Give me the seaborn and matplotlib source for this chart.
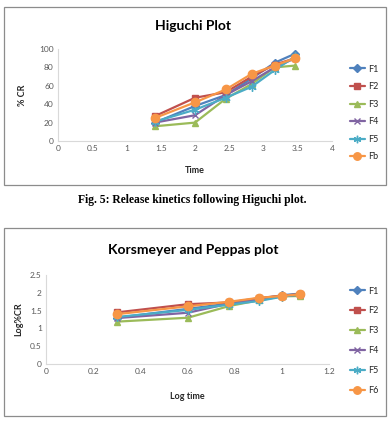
import matplotlib
matplotlib.use("Agg")
import matplotlib.pyplot as plt
import seaborn as sns
from matplotlib.patches import Rectangle

sns.set_theme(style="white")
plt.rcParams['font.family'] = ['Lato', 'DejaVu Sans']

series = ["F1", "F2", "F3", "F4", "F5", "F6"]
higuchi_labels = ["F1", "F2", "F3", "F4", "F5", "Fb"]
sqrt_time = [1.414, 2.0, 2.449, 2.828, 3.162, 3.464]
log_time = [0.301, 0.602, 0.778, 0.903, 1.0, 1.079]

higuchi_F1 = [20, 38, 50, 68, 85, 95]
higuchi_F2 = [27, 47, 53, 70, 83, 90]
higuchi_F3 = [16, 20, 46, 62, 80, 82]
higuchi_F4 = [20, 28, 50, 65, 80, 90]
higuchi_F5 = [21, 34, 47, 59, 77, 92]
higuchi_F6 = [25, 42, 56, 73, 82, 90]

kp_F1 = [1.30, 1.55, 1.70, 1.83, 1.93, 1.98]
kp_F2 = [1.45, 1.68, 1.73, 1.85, 1.92, 1.96]
kp_F3 = [1.19, 1.30, 1.63, 1.79, 1.90, 1.91]
kp_F4 = [1.29, 1.44, 1.70, 1.81, 1.90, 1.95]
kp_F5 = [1.32, 1.52, 1.67, 1.77, 1.89, 1.96]
kp_F6 = [1.40, 1.62, 1.75, 1.86, 1.91, 1.96]

colors = ["#4F81BD", "#C0504D", "#9BBB59", "#8064A2", "#4BACC6", "#F79646"]
markers = ["D", "s", "^", "x", (6, 2, 0), "o"]
msizes = [4, 5, 5, 5, 6, 6]

W, H = 391, 421
fig = plt.figure(figsize=(W / 100, H / 100), dpi=100)


def fx(px):
    return px / W


def fy(py):
    return 1 - py / H


# panel frames
for top, bot in [(7, 185), (228, 416)]:
    fig.patches.append(Rectangle((fx(4), fy(bot)), fx(386) - fx(4), fy(top) - fy(bot),
                                 transform=fig.transFigure, fill=False,
                                 edgecolor="#8c8c8c", linewidth=0.9))


def style_axes(ax):
    for s in ["top", "right"]:
        ax.spines[s].set_visible(False)
    for s in ["left", "bottom"]:
        ax.spines[s].set_color("#d9d9d9")
        ax.spines[s].set_linewidth(0.8)
    ax.tick_params(axis="both", length=0, labelsize=6, labelcolor="#595959", pad=3)
    ax.grid(False)
    ax.set_facecolor("white")


def draw(ax, x, ys, labels):
    for y, lab, c, m, ms in zip(ys, labels, colors, markers, msizes):
        sns.lineplot(x=x, y=y, ax=ax, color=c, marker=m, markersize=ms,
                     markeredgecolor=c, markeredgewidth=1.0, linewidth=1.6,
                     label=lab, estimator=None, sort=False)


# Higuchi
ax1 = fig.add_axes([fx(58), fy(141), fx(332) - fx(58), fy(49) - fy(141)])
draw(ax1, sqrt_time, [higuchi_F1, higuchi_F2, higuchi_F3, higuchi_F4, higuchi_F5, higuchi_F6],
     higuchi_labels)
style_axes(ax1)
ax1.set_xlim(0, 4)
ax1.set_ylim(0, 100)
ax1.set_xticks([0, 0.5, 1, 1.5, 2, 2.5, 3, 3.5, 4])
ax1.set_xticklabels(["0", "0.5", "1", "1.5", "2", "2.5", "3", "3.5", "4"])
ax1.set_yticks([0, 20, 40, 60, 80, 100])
ax1.set_xlabel("Time", fontsize=6.5, fontweight="bold", color="#262626", labelpad=10)
ax1.set_ylabel("% CR", fontsize=6.5, fontweight="bold", color="#262626", labelpad=9)
fig.text(fx(193), fy(26), "Higuchi Plot", ha="center", va="center", fontsize=10,
         fontweight="bold", color="black")
ax1.legend(loc="upper left", bbox_to_anchor=(fx(346), fy(61)), bbox_transform=fig.transFigure,
           frameon=False, fontsize=6.5, handlelength=1.7, labelspacing=0.95,
           handletextpad=0.3, borderaxespad=0, markerscale=0.9)

fig.text(fx(192), fy(200), "Fig. 5: Release kinetics following Higuchi plot.",
         ha="center", va="center", fontsize=8.4, fontweight="bold",
         family=["Liberation Serif", "DejaVu Serif"], color="black")

# Korsmeyer and Peppas
ax2 = fig.add_axes([fx(46), fy(364), fx(329) - fx(46), fy(275) - fy(364)])
draw(ax2, log_time, [kp_F1, kp_F2, kp_F3, kp_F4, kp_F5, kp_F6], series)
style_axes(ax2)
ax2.set_xlim(0, 1.2)
ax2.set_ylim(0, 2.5)
ax2.set_xticks([0, 0.2, 0.4, 0.6, 0.8, 1.0, 1.2])
ax2.set_xticklabels(["0", "0.2", "0.4", "0.6", "0.8", "1", "1.2"])
ax2.set_yticks([0, 0.5, 1, 1.5, 2, 2.5])
ax2.set_yticklabels(["0", "0.5", "1", "1.5", "2", "2.5"])
ax2.set_xlabel("Log time", fontsize=6.5, fontweight="bold", color="#262626", labelpad=12)
ax2.set_ylabel("Log%CR", fontsize=6.5, fontweight="bold", color="#262626", labelpad=5)
fig.text(fx(193), fy(250), "Korsmeyer and Peppas plot", ha="center", va="center",
         fontsize=10, fontweight="bold", color="black")
ax2.legend(loc="upper left", bbox_to_anchor=(fx(346), fy(283)), bbox_transform=fig.transFigure,
           frameon=False, fontsize=6.5, handlelength=1.7, labelspacing=1.2,
           handletextpad=0.3, borderaxespad=0, markerscale=0.9)

fig.savefig("out.png", dpi=100, facecolor="white")
